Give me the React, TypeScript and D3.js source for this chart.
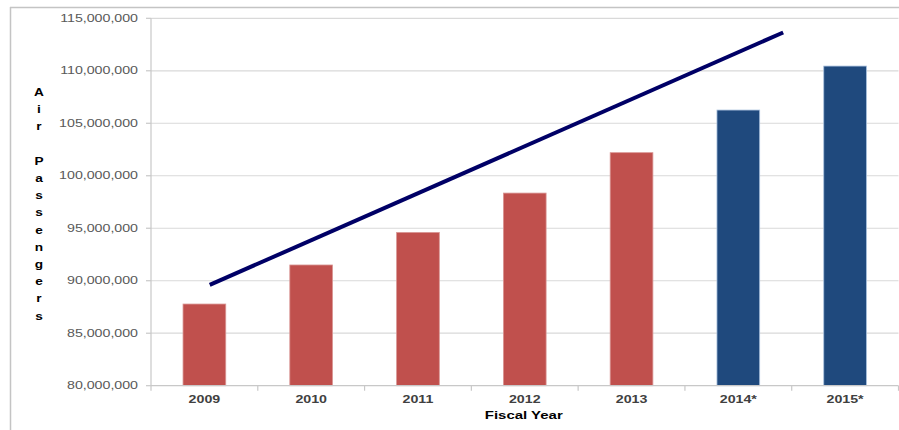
import React from "react";
import * as d3 from "d3";

const categories = ["2009", "2010", "2011", "2012", "2013", "2014*", "2015*"];
const passengers = [87.78e6, 91.5e6, 94.6e6, 98.35e6, 102.2e6, 106.26e6, 110.45e6];
const projected = [false, false, false, false, false, true, true];
const yTicks = [80e6, 85e6, 90e6, 95e6, 100e6, 105e6, 110e6, 115e6];
// trend line: position in category index units (0 = centre of first category), value
const trendPos = [0.05, 5.42];
const trendVal = [89.6e6, 113.65e6];
const yTitle = "Air Passengers";
const xTitle = "Fiscal Year";

const W = 899;
const H = 430;
const left = 151;
const right = 898.5;
const top = 18.3;
const bottom = 385.7;
const SX = 1.42;
const FONT = "'Liberation Sans', Arial, sans-serif";

export default function App() {
  const x = d3.scaleBand<string>().domain(categories).range([left, right]).padding(0);
  const y = d3.scaleLinear().domain([80e6, 115e6]).range([bottom, top]);
  const bw = x.bandwidth();
  const barW = bw * 0.4;
  const fmt = d3.format(",");
  const posX = (p: number) => (x(categories[0]) as number) + bw / 2 + p * bw;
  const line = d3
    .line<number>()
    .x((_, i) => posX(trendPos[i]))
    .y((v) => y(v));
  const boundaries = categories.map((c) => x(c) as number).concat([right]);

  return (
    <svg
      width={W}
      height={H}
      style={{ position: "absolute", left: 0, top: 0, background: "#fff" }}
    >
      {/* outer frame */}
      <line x1={10} x2={W} y1={7.5} y2={7.5} stroke="#c4c4c4" strokeWidth={1.5} />
      <line x1={10.5} x2={10.5} y1={7} y2={H} stroke="#c4c4c4" strokeWidth={1.5} />

      {/* gridlines */}
      {yTicks.slice(1).map((t) => (
        <line key={t} x1={left} x2={right} y1={y(t)} y2={y(t)} stroke="#d9d9d9" strokeWidth={1.2} />
      ))}

      {/* y axis */}
      <line x1={left} x2={left} y1={top} y2={bottom} stroke="#c8c8c8" strokeWidth={1.2} />
      {yTicks.map((t) => (
        <g key={t}>
          <line x1={left - 5} x2={left} y1={y(t)} y2={y(t)} stroke="#c8c8c8" strokeWidth={1.2} />
          <text
            transform={`translate(138,${y(t)}) scale(${SX},1)`}
            dy="0.36em"
            textAnchor="end"
            fontFamily={FONT}
            fontSize={10}
            fill="#595959"
          >
            {fmt(t)}
          </text>
        </g>
      ))}

      {/* bars */}
      {categories.map((c, i) => (
        <rect
          key={c}
          x={(x(c) as number) + (bw - barW) / 2}
          y={y(passengers[i])}
          width={barW}
          height={bottom - y(passengers[i])}
          fill={projected[i] ? "#1f497d" : "#c0504d"}
          stroke={projected[i] ? "#a9c1de" : "#d99694"}
          strokeWidth={0.8}
        />
      ))}

      {/* x axis */}
      <line x1={left} x2={right} y1={bottom} y2={bottom} stroke="#c8c8c8" strokeWidth={1.2} />
      {boundaries.map((b, i) => (
        <line key={i} x1={b} x2={b} y1={bottom} y2={bottom + 5} stroke="#c8c8c8" strokeWidth={1.2} />
      ))}
      {categories.map((c) => (
        <text
          key={c}
          transform={`translate(${(x(c) as number) + bw / 2},403) scale(${SX},1)`}
          textAnchor="middle"
          fontFamily={FONT}
          fontSize={10}
          fontWeight="bold"
          fill="#404040"
        >
          {c}
        </text>
      ))}

      {/* trend line */}
      <path d={line(trendVal) || ""} fill="none" stroke="#000066" strokeWidth={4} />

      {/* axis titles */}
      <text
        transform={`translate(${(left + right) / 2 - 1},419) scale(1.36,1)`}
        textAnchor="middle"
        fontFamily={FONT}
        fontSize={11}
        fontWeight="bold"
        fill="#000"
      >
        {xTitle}
      </text>
      {yTitle.split("").map((ch, i) => (
        <text
          key={i}
          transform={`translate(39,${96 + i * 17.2}) scale(1.3,1)`}
          textAnchor="middle"
          fontFamily={FONT}
          fontSize={10.5}
          fontWeight="bold"
          fill="#000"
        >
          {ch}
        </text>
      ))}
    </svg>
  );
}
